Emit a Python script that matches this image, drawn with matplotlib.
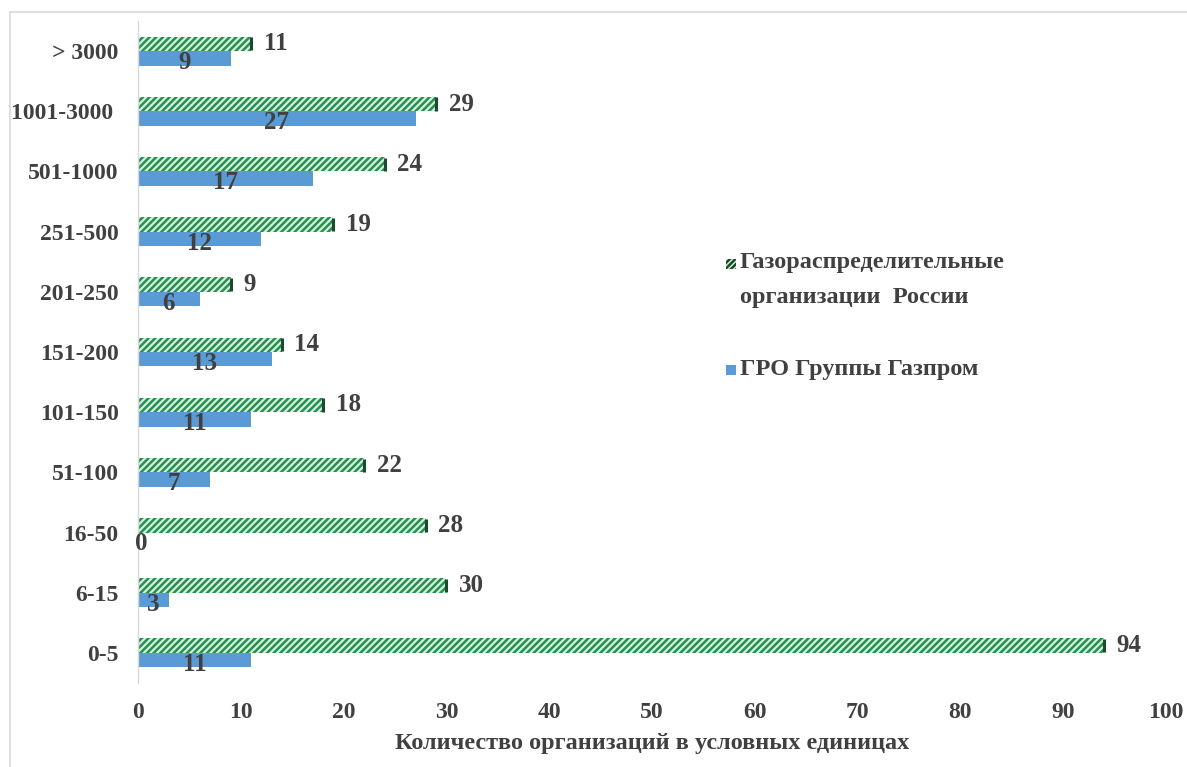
import matplotlib
matplotlib.use("Agg")
import matplotlib.pyplot as plt
from matplotlib.patches import Rectangle
from matplotlib.lines import Line2D
import numpy as np

# Size classes of gas distribution organisations (bottom to top)
categories = ['0-5', '6-15', '16-50', '51-100', '101-150', '151-200',
              '201-250', '251-500', '501-1000', '1001-3000 ', '> 3000']
russia_orgs = [94, 30, 28, 22, 18, 14, 9, 19, 24, 29, 11]
gazprom_orgs = [11, 3, 0, 7, 11, 13, 6, 12, 17, 27, 9]
x_ticks = [0, 10, 20, 30, 40, 50, 60, 70, 80, 90, 100]

label_russia = 'Газораспределительные\nорганизации  России'
label_gazprom = 'ГРО Группы Газпром'
x_title = 'Количество организаций в условных единицах'

TEXT = '#404040'
GREEN_FACE = '#d2f3dc'
GREEN_HATCH = '#2a8d52'
GREEN_END = '#1b4a2d'
BLUE = '#5b9bd5'
FONT = 'Liberation Serif'

plt.rcParams['font.family'] = [FONT, 'DejaVu Serif']
plt.rcParams['font.weight'] = 'bold'
plt.rcParams['hatch.linewidth'] = 1.8

fig = plt.figure(figsize=(11.87, 7.67), dpi=100)
ax = fig.add_axes([138 / 1187, 1 - 683 / 767, (1166 - 138) / 1187, (683 - 21) / 767])

y = np.arange(len(categories))
h = 0.24

ax.barh(y + h / 2, russia_orgs, height=h, color=GREEN_FACE,
        edgecolor=GREEN_HATCH, linewidth=0, hatch='/////')
ax.barh(y - h / 2, gazprom_orgs, height=h, color=BLUE, linewidth=0)
# dark cap at the end of each hatched bar
ax.vlines(russia_orgs, y + 0.01, y + h - 0.01, colors=GREEN_END, linewidth=2.2)

for yi, v in zip(y, russia_orgs):
    ax.annotate(str(v), (v, yi + h / 2), xytext=(9, 0), textcoords='offset points',
                ha='left', va='center', fontsize=18, fontweight='bold', color=TEXT)
for yi, v in zip(y, gazprom_orgs):
    ax.annotate(str(v), (v / 2, yi - h / 2), xytext=(2 if v == 0 else 0, -3),
                textcoords='offset points',
                ha='center', va='center', fontsize=18, fontweight='bold', color=TEXT)

ax.set_xlim(0, 100)
ax.set_ylim(-0.5, len(categories) - 0.5)
ax.set_xticks(x_ticks)
ax.set_xticklabels([str(t) for t in x_ticks])
ax.set_yticks(y)
ax.set_yticklabels(categories)
ax.tick_params(axis='both', length=0, labelsize=17, labelcolor=TEXT)
ax.tick_params(axis='x', pad=14)
ax.tick_params(axis='y', pad=14)
for lbl in ax.get_xticklabels() + ax.get_yticklabels():
    lbl.set_fontweight('bold')

for side in ['top', 'right', 'bottom']:
    ax.spines[side].set_visible(False)
ax.spines['left'].set_color('#d9d9d9')
ax.spines['left'].set_linewidth(1.0)

ax.set_xlabel(x_title, fontsize=17.5, fontweight='bold', color=TEXT, labelpad=7)

# legend, drawn in figure pixels
W, H = 1187, 767
fig.patches.append(Rectangle((726 / W, 1 - 269 / H), 10 / W, 10 / H, transform=fig.transFigure,
                             facecolor=GREEN_FACE, edgecolor=GREEN_END, linewidth=0,
                             hatch='//////'))
fig.text(740 / W, 1 - 252 / H, label_russia, ha='left', va='top', fontsize=17.5,
         fontweight='bold', color=TEXT, linespacing=1.9)
fig.patches.append(Rectangle((726 / W, 1 - 375 / H), 10 / W, 10 / H, transform=fig.transFigure,
                             facecolor=BLUE, linewidth=0))
fig.text(740 / W, 1 - 370 / H, label_gazprom, ha='left', va='center', fontsize=17.5,
         fontweight='bold', color=TEXT)

# chart area frame
fig.lines.append(Line2D([10 / W, 1], [1 - 12 / H, 1 - 12 / H], transform=fig.transFigure,
                        color='#d9d9d9', linewidth=1.2))
fig.lines.append(Line2D([10 / W, 10 / W], [1 - 12 / H, 0], transform=fig.transFigure,
                        color='#d9d9d9', linewidth=1.2))

fig.savefig('out.png', dpi=100)
